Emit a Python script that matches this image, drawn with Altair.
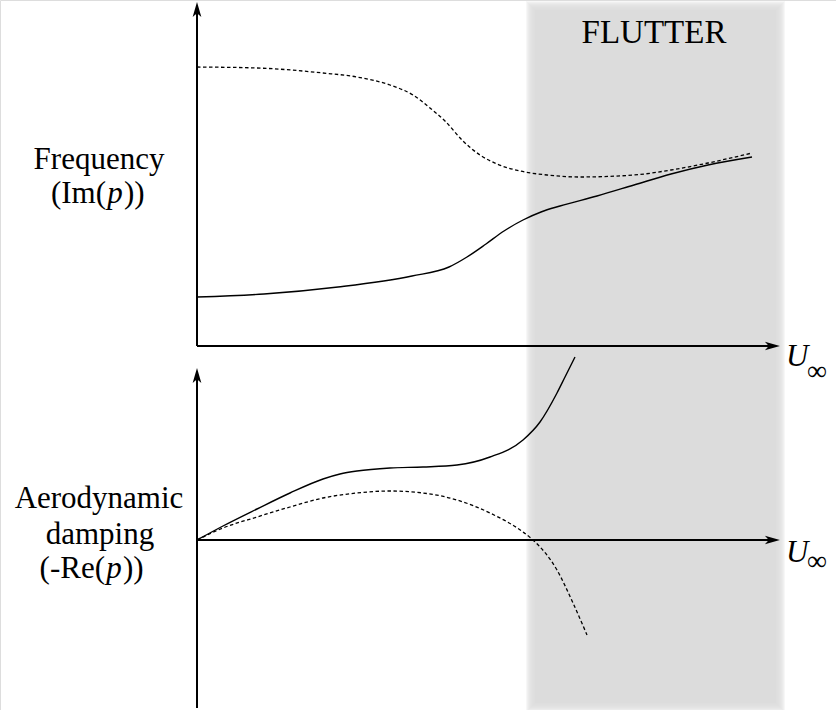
import altair as alt
import pandas as pd

# ---- axis extents (arbitrary units) ----
U_TIP = 58.3      # end of both airspeed axes
F_TIP = 34.4      # end of the frequency axis
D_TIP = 17.2      # upper end of the damping axis
D_MIN = -16.8     # lower end of the damping axis
FLUTTER_U = [33.4, 58.3]   # airspeed range past the flutter onset

# ---- upper panel: modal frequencies Im(p) vs airspeed ----
freq_u_solid = [0, 6.7, 14.1, 21.5, 25.2, 27.0, 28.9, 30.7, 32.6, 34.4,
                36.3, 40.0, 43.7, 47.4, 51.1, 55.5]
freq_solid = [4.9, 5.2, 5.9, 7.0, 7.9, 8.9, 10.2, 11.5, 12.6, 13.4,
              14.0, 15.0, 16.1, 17.2, 18.1, 18.9]

freq_u_dashed = [0, 6.0, 12.6, 16.0, 19.3, 21.6, 23.3, 24.8, 26.6,
                 28.3, 30.0, 32.3, 35.0, 38.3, 43.7, 47.4, 51.1, 55.5]
freq_dashed = [27.9, 27.8, 27.3, 26.9, 26.1, 25.1, 23.8, 22.5, 20.5,
               19.1, 18.2, 17.5, 17.1, 16.9, 17.1, 17.6, 18.3, 19.3]

# ---- lower panel: aerodynamic damping -Re(p) vs airspeed ----
damp_u_solid = [0, 2.6, 6.0, 9.3, 12.6, 14.3, 16.0, 19.3, 22.6, 26.0,
                29.3, 32.6, 34.3, 36.0, 36.8, 37.8]
damp_solid = [0, 1.4, 3.1, 4.7, 6.1, 6.6, 6.9, 7.2, 7.3, 7.5,
              8.3, 10.0, 11.8, 14.7, 16.3, 18.3]

damp_u_dashed = [0, 2.6, 6.0, 9.3, 12.6, 16.0, 19.3, 22.6, 26.0, 29.3,
                 32.6, 33.6, 36.0, 37.6, 39.0]
damp_dashed = [0, 1.2, 2.3, 3.3, 4.2, 4.7, 4.9, 4.7, 4.0, 2.7,
               0.8, 0.0, -3.0, -6.3, -9.5]

# ---- text ----
band_label = "FLUTTER"
freq_label = ["Frequency", "(Im(", "p", "))"]
damp_label = ["Aerodynamic", "damping", "(-Re(", "p", "))"]
speed_label = ["U", "\u221e"]

SERIF = "Liberation Serif"
BAND_GREY = "#dcdcdc"

x_scale = alt.Scale(domain=[0, U_TIP], range=[197, 780], nice=False, zero=False)
f_scale = alt.Scale(domain=[0, F_TIP], range=[346, 2], nice=False, zero=False)
d_scale = alt.Scale(domain=[D_MIN, D_TIP], range=[708, 368], nice=False, zero=False)

UP_ARROW = "M0,-1 L0.55,0.9 L0,0.4 L-0.55,0.9 Z"
RIGHT_ARROW = "M1,0 L-0.9,0.55 L-0.4,0 L-0.9,-0.55 Z"

layers = []

# shaded flutter region with soft edges (stack of translucent rects)
band_df = pd.DataFrame({"u0": [FLUTTER_U[0]], "u1": [FLUTTER_U[1]]})
for e in [5, 4, 3, 2, 1, 0, -1, -2, -3]:
    layers.append(
        alt.Chart(band_df).mark_rect(
            color=BAND_GREY, opacity=0.22,
            xOffset=-e, x2Offset=e, yOffset=-e, y2Offset=e,
        ).encode(
            x=alt.X("u0:Q", scale=x_scale, axis=None), x2="u1:Q",
            y=alt.value(6), y2=alt.value(707),
        )
    )
layers.append(
    alt.Chart(band_df).mark_rect(
        color=BAND_GREY, opacity=1,
        xOffset=4, x2Offset=-4, yOffset=4, y2Offset=-4,
    ).encode(
        x=alt.X("u0:Q", scale=x_scale, axis=None), x2="u1:Q",
        y=alt.value(6), y2=alt.value(707),
    )
)


def curve(u, v, scale, dashed):
    style = dict(color="black", interpolate="monotone")
    if dashed:
        style.update(strokeWidth=1.3, strokeDash=[3.5, 2.5])
    else:
        style.update(strokeWidth=1.4)
    df = pd.DataFrame({"u": u, "v": v})
    return alt.Chart(df).mark_line(**style).encode(
        x=alt.X("u:Q", scale=x_scale, axis=None),
        y=alt.Y("v:Q", scale=scale, axis=None),
    )


layers += [
    curve(freq_u_solid, freq_solid, f_scale, False),
    curve(freq_u_dashed, freq_dashed, f_scale, True),
    curve(damp_u_solid, damp_solid, d_scale, False),
    curve(damp_u_dashed, damp_dashed, d_scale, True),
]


def axes(scale, v_low, v_tip):
    vert = pd.DataFrame({"u": [0], "v0": [v_low], "v1": [v_tip]})
    horiz = pd.DataFrame({"u0": [0], "u1": [U_TIP], "v": [0]})
    return [
        alt.Chart(vert).mark_rule(color="black", strokeWidth=2, y2Offset=6).encode(
            x=alt.X("u:Q", scale=x_scale, axis=None),
            y=alt.Y("v0:Q", scale=scale, axis=None), y2="v1:Q",
        ),
        alt.Chart(horiz).mark_rule(color="black", strokeWidth=2, x2Offset=-6).encode(
            x=alt.X("u0:Q", scale=x_scale, axis=None), x2="u1:Q",
            y=alt.Y("v:Q", scale=scale, axis=None),
        ),
        alt.Chart(pd.DataFrame({"u": [0], "v": [v_tip]})).mark_point(
            shape=UP_ARROW, size=250, filled=True, opacity=1,
            color="black", strokeWidth=0, yOffset=8,
        ).encode(
            x=alt.X("u:Q", scale=x_scale, axis=None),
            y=alt.Y("v:Q", scale=scale, axis=None),
        ),
        alt.Chart(pd.DataFrame({"u": [U_TIP], "v": [0]})).mark_point(
            shape=RIGHT_ARROW, size=250, filled=True, opacity=1,
            color="black", strokeWidth=0, xOffset=-8,
        ).encode(
            x=alt.X("u:Q", scale=x_scale, axis=None),
            y=alt.Y("v:Q", scale=scale, axis=None),
        ),
    ]


layers += axes(f_scale, 0, F_TIP)
layers += axes(d_scale, D_MIN, D_TIP)


def label(text, x, y, size=31, align="center", style="normal"):
    return alt.Chart(pd.DataFrame({"t": [text]})).mark_text(
        font=SERIF, fontSize=size, align=align, baseline="alphabetic",
        fontStyle=style, color="black",
    ).encode(text="t:N", x=alt.value(x), y=alt.value(y))


layers += [
    label(band_label, 654, 43, size=33),
    # Frequency (Im(p))
    label(freq_label[0], 99, 169),
    label(freq_label[1], 106, 203, align="right"),
    label(freq_label[2], 115, 203, style="italic"),
    label(freq_label[3], 124, 203, align="left"),
    # Aerodynamic damping (-Re(p))
    label(damp_label[0], 99, 508),
    label(damp_label[1], 100, 544),
    label(damp_label[2], 105, 578, align="right"),
    label(damp_label[3], 114, 578, style="italic"),
    label(damp_label[4], 123, 578, align="left"),
    # U_inf at the ends of the airspeed axes
    label(speed_label[0], 786, 366, align="left", style="italic"),
    label(speed_label[1], 807, 380, size=28, align="left"),
    label(speed_label[0], 786, 562, align="left", style="italic"),
    label(speed_label[1], 807, 570, size=28, align="left"),
]

chart = alt.layer(*layers).resolve_scale(y="independent").properties(
    width=836, height=710,
    autosize=alt.AutoSizeParams(type="none"),
    padding=0,
).configure_view(stroke=None).configure(background="white")

chart.save("out.html", embed_options={"renderer": "svg", "actions": False})
